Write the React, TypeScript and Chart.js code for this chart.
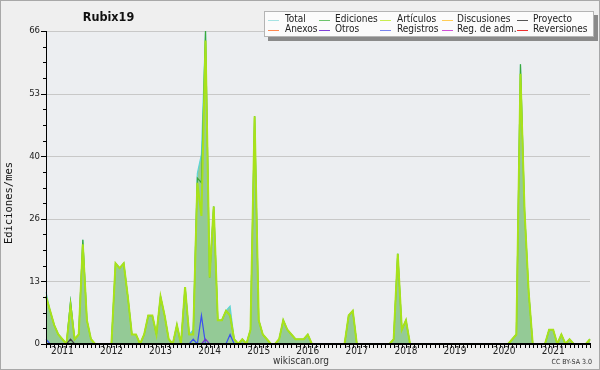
import React, { useEffect, useRef } from 'react';
import { Chart, registerables } from 'chart.js';

Chart.register(...registerables);

const W = 600;
const H = 370;

// Monthly series, first month = September 2010
const START_YEAR = 2010;
const START_MONTH = 9;

const TOTAL = [
  11, 7, 4, 2,
  1, 0, 9, 1, 2, 22, 5, 1, 0, 0, 0, 0,
  0, 17, 16, 17, 10, 2, 2, 0, 2, 6, 6, 2,
  10, 6, 1, 0, 4, 0, 12, 2, 3, 36, 40, 66,
  14, 29, 5, 5, 7, 8, 1, 0, 1, 0, 3, 48,
  5, 2, 1, 0, 0, 1, 5, 3, 2, 1, 1, 1,
  2, 0, 0, 0, 0, 0, 0, 0, 0, 0, 6, 7,
  0, 0, 0, 0, 0, 0, 0, 0, 0, 1, 19, 3,
  5, 0, 0, 0, 0, 0, 0, 0, 0, 0, 0, 0,
  0, 0, 0, 0, 0, 0, 0, 0, 0, 0, 0, 0,
  0, 0, 1, 2, 59, 28, 11, 0, 0, 0, 0, 3,
  3, 0, 2, 0, 1, 0, 0, 0, 0, 1,
];

const EDICIONES = [
  10, 7, 4, 2,
  1, 0, 9, 1, 2, 22, 5, 1, 0, 0, 0, 0,
  0, 17, 16, 17, 10, 2, 2, 0, 2, 6, 6, 2,
  10, 6, 1, 0, 4, 0, 12, 2, 2, 35, 34, 66,
  14, 29, 5, 5, 7, 6, 1, 0, 1, 0, 3, 48,
  5, 2, 1, 0, 0, 1, 5, 3, 2, 1, 1, 1,
  2, 0, 0, 0, 0, 0, 0, 0, 0, 0, 6, 7,
  0, 0, 0, 0, 0, 0, 0, 0, 0, 1, 19, 3,
  5, 0, 0, 0, 0, 0, 0, 0, 0, 0, 0, 0,
  0, 0, 0, 0, 0, 0, 0, 0, 0, 0, 0, 0,
  0, 0, 1, 2, 59, 28, 11, 0, 0, 0, 0, 3,
  3, 0, 2, 0, 1, 0, 0, 0, 0, 1,
];

const ARTICULOS = [
  10, 7, 4, 2,
  1, 0, 8, 1, 2, 21, 5, 1, 0, 0, 0, 0,
  0, 17, 16, 17, 10, 2, 2, 0, 2, 6, 6, 2,
  10, 6, 1, 0, 4, 0, 12, 2, 2, 34, 27, 64,
  14, 29, 5, 5, 7, 6, 1, 0, 1, 0, 3, 48,
  5, 2, 1, 0, 0, 1, 5, 3, 2, 1, 1, 1,
  2, 0, 0, 0, 0, 0, 0, 0, 0, 0, 6, 7,
  0, 0, 0, 0, 0, 0, 0, 0, 0, 1, 19, 3,
  5, 0, 0, 0, 0, 0, 0, 0, 0, 0, 0, 0,
  0, 0, 0, 0, 0, 0, 0, 0, 0, 0, 0, 0,
  0, 0, 1, 2, 57, 28, 11, 0, 0, 0, 0, 3,
  3, 0, 2, 0, 1, 0, 0, 0, 0, 1,
];

const REGISTROS = [
  1, 0, 0, 0,
  0, 0, 0, 0, 0, 0, 0, 0, 0, 0, 0, 0,
  0, 0, 0, 0, 0, 0, 0, 0, 0, 0, 0, 0,
  0, 0, 0, 0, 0, 0, 0, 0, 1, 0, 6, 0,
  0, 0, 0, 0, 0, 2, 0, 0, 0, 0, 0, 0,
  0, 0, 0, 0, 0, 0, 0, 0, 0, 0, 0, 0,
  0, 0, 0, 0, 0, 0, 0, 0, 0, 0, 0, 0,
  0, 0, 0, 0, 0, 0, 0, 0, 0, 0, 0, 0,
  0, 0, 0, 0, 0, 0, 0, 0, 0, 0, 0, 0,
  0, 0, 0, 0, 0, 0, 0, 0, 0, 0, 0, 0,
  0, 0, 0, 0, 0, 0, 0, 0, 0, 0, 0, 0,
  0, 0, 0, 0, 0, 0, 0, 0, 0, 0,
];

const OTROS = [
  0, 0, 0, 0,
  0, 0, 0, 0, 0, 0, 0, 0, 0, 0, 0, 0,
  0, 0, 0, 0, 0, 0, 0, 0, 0, 0, 0, 0,
  0, 0, 0, 0, 0, 0, 0, 0, 0, 0, 0, 1,
  0, 0, 0, 0, 0, 0, 0, 0, 0, 0, 0, 0,
  0, 0, 0, 0, 0, 0, 0, 0, 0, 0, 0, 0,
  0, 0, 0, 0, 0, 0, 0, 0, 0, 0, 0, 0,
  0, 0, 0, 0, 0, 0, 0, 0, 0, 0, 0, 0,
  0, 0, 0, 0, 0, 0, 0, 0, 0, 0, 0, 0,
  0, 0, 0, 0, 0, 0, 0, 0, 0, 0, 0, 0,
  0, 0, 0, 0, 0, 0, 0, 0, 0, 0, 0, 0,
  0, 0, 0, 0, 0, 0, 0, 0, 0, 0,
];

const PROYECTO = [
  0, 0, 0, 0,
  0, 0, 1, 0, 0, 0, 0, 0, 0, 0, 0, 0,
  0, 0, 0, 0, 0, 0, 0, 0, 0, 0, 0, 0,
  0, 0, 0, 0, 0, 0, 0, 0, 0, 0, 0, 0,
  0, 0, 0, 0, 0, 0, 0, 0, 0, 0, 0, 0,
  0, 0, 0, 0, 0, 0, 0, 0, 0, 0, 0, 0,
  0, 0, 0, 0, 0, 0, 0, 0, 0, 0, 0, 0,
  0, 0, 0, 0, 0, 0, 0, 0, 0, 0, 0, 0,
  0, 0, 0, 0, 0, 0, 0, 0, 0, 0, 0, 0,
  0, 0, 0, 0, 0, 0, 0, 0, 0, 0, 0, 0,
  0, 0, 0, 0, 0, 0, 0, 0, 0, 0, 0, 0,
  0, 0, 0, 0, 0, 0, 0, 0, 0, 0,
];

const YEAR_LABELS = ['2011', '2012', '2013', '2014', '2015', '2016', '2017', '2018', '2019', '2020', '2021'];
const Y_TICK_LABELS = ['0', '13', '26', '40', '53', '66'];
const Y_MAX = 66;

const TITLE = 'Rubix19';
const Y_TITLE = 'Ediciones/mes';
const FOOTER = 'wikiscan.org';
const LICENSE = 'CC BY-SA 3.0';

const LEGEND_NAMES = ['Total', 'Ediciones', 'Artículos', 'Discusiones', 'Proyecto', 'Anexos', 'Otros', 'Registros', 'Reg. de adm.', 'Reversiones'];
const LEGEND_COLORS = ['#a6e3e3', '#6cc46c', '#c8ee50', '#ffcc55', '#555555', '#ff8850', '#8040d8', '#7784ee', '#d050d8', '#ee3030'];

const MONTHS = TOTAL.map((_, i) => {
  const m = START_MONTH - 1 + i;
  return `${START_YEAR + Math.floor(m / 12)}-${String((m % 12) + 1).padStart(2, '0')}`;
});

const FONT = "'DejaVu Sans Condensed', 'DejaVu Sans', sans-serif";

const decorPlugin = {
  id: 'decor',
  beforeDraw(chart: any) {
    const { ctx, chartArea: a } = chart;
    const y = chart.scales.y;
    ctx.save();
    ctx.fillStyle = '#efefef';
    ctx.fillRect(0, 0, W, H);
    ctx.fillStyle = '#eceef1';
    ctx.fillRect(a.left, a.top, a.right - a.left, a.bottom - a.top);
    ctx.fillStyle = '#c8c8c8';
    Y_TICK_LABELS.forEach((_, k) => {
      if (k === 0) return;
      const py = Math.round(y.getPixelForValue((Y_MAX * k) / 5));
      ctx.fillRect(a.left, py, a.right - a.left, 1);
    });
    ctx.restore();
  },
  afterDatasetsDraw(chart: any) {
    const { ctx, chartArea: a } = chart;
    const x = chart.scales.x;
    const y = chart.scales.y;
    ctx.save();
    ctx.fillStyle = '#000';
    ctx.fillRect(a.left, a.top, 1, a.bottom - a.top);
    ctx.fillRect(a.left, a.bottom - 1, a.right - a.left + 1, 2);
    for (let j = 0; j <= 20; j++) {
      const py = Math.round(y.getPixelForValue((Y_MAX * j) / 20));
      if (j % 4 === 0) ctx.fillRect(a.left - 5, py, 5, 1);
      else ctx.fillRect(a.left - 3, py, 3, 1);
    }
    for (let i = 0; i < MONTHS.length; i++) {
      const px = Math.round(x.getPixelForValue(i));
      ctx.fillRect(px, a.bottom + 1, 1, 3);
    }
    ctx.fillStyle = '#222';
    ctx.font = `9.5px ${FONT}`;
    ctx.textAlign = 'right';
    ctx.textBaseline = 'middle';
    Y_TICK_LABELS.forEach((t, k) => {
      const py = y.getPixelForValue((Y_MAX * k) / 5);
      ctx.fillText(t, a.left - 6, py);
    });
    ctx.font = `10px ${FONT}`;
    ctx.textAlign = 'center';
    ctx.textBaseline = 'middle';
    YEAR_LABELS.forEach((yr) => {
      const idx = MONTHS.indexOf(`${yr}-01`);
      if (idx < 0) return;
      ctx.fillText(yr, x.getPixelForValue(idx), 351.5);
    });
    ctx.restore();
  },
  afterDraw(chart: any) {
    const { ctx } = chart;
    ctx.save();
    ctx.fillStyle = '#111';
    ctx.font = `bold 12.5px ${FONT}`;
    ctx.textAlign = 'center';
    ctx.textBaseline = 'alphabetic';
    ctx.fillText(TITLE, 108.5, 21);
    ctx.save();
    ctx.translate(9, 203);
    ctx.rotate(-Math.PI / 2);
    ctx.font = "10.5px 'DejaVu Sans Mono', monospace";
    ctx.textAlign = 'center';
    ctx.textBaseline = 'middle';
    ctx.fillStyle = '#111';
    ctx.fillText(Y_TITLE, 0, 0);
    ctx.restore();
    ctx.fillStyle = '#333';
    ctx.font = `10px ${FONT}`;
    ctx.textAlign = 'center';
    ctx.textBaseline = 'middle';
    ctx.fillText(FOOTER, 301, 361);
    ctx.font = `7px ${FONT}`;
    ctx.textAlign = 'right';
    ctx.fillText(LICENSE, 592, 362.5);
    ctx.fillStyle = '#8a8a8a';
    ctx.fillRect(268, 15, 330, 26);
    ctx.fillStyle = '#fbfbfb';
    ctx.fillRect(264, 11, 330, 26);
    ctx.strokeStyle = '#b4b4b4';
    ctx.lineWidth = 1;
    ctx.strokeRect(264.5, 11.5, 329, 25);
    const lineX = [268, 319, 380, 442, 517];
    const textX = [285, 335, 397, 457, 533];
    const rowY = [19.5, 29.5];
    ctx.font = `10px ${FONT}`;
    ctx.textAlign = 'left';
    ctx.textBaseline = 'middle';
    LEGEND_NAMES.forEach((name, k) => {
      const col = k % 5;
      const row = Math.floor(k / 5);
      const yy = rowY[row];
      ctx.fillStyle = LEGEND_COLORS[k];
      ctx.fillRect(lineX[col], Math.round(yy), 11, 1);
      ctx.fillStyle = '#222';
      ctx.fillText(name, textX[col], yy);
    });
    ctx.strokeStyle = '#a8a8a8';
    ctx.strokeRect(0.5, 0.5, W - 1, H - 1);
    ctx.restore();
  },
};

export default function App() {
  const ref = useRef<HTMLCanvasElement>(null);
  useEffect(() => {
    document.body.style.margin = '0';
    const chart = new Chart(ref.current as HTMLCanvasElement, {
      type: 'line',
      data: {
        labels: MONTHS,
        datasets: [
          { label: 'Proyecto', data: PROYECTO, borderColor: '#444444', borderWidth: 1.2, fill: false, order: 0 },
          { label: 'Otros', data: OTROS, borderColor: '#7733cc', borderWidth: 1.2, fill: false, order: 1 },
          { label: 'Registros', data: REGISTROS, borderColor: '#3b4ff0', borderWidth: 1.2, fill: false, order: 2 },
          { label: 'Artículos', data: ARTICULOS, borderColor: '#a8e21a', borderWidth: 2, fill: false, order: 3 },
          { label: 'Ediciones', data: EDICIONES, borderColor: '#3aa83a', borderWidth: 1.2, fill: false, order: 4 },
          { label: 'Total', data: TOTAL, borderColor: '#5cd6d6', borderWidth: 1.2, backgroundColor: '#94ca96', fill: 'origin', order: 5 },
        ],
      },
      options: {
        responsive: false,
        animation: false,
        devicePixelRatio: 1,
        events: [],
        layout: { padding: { left: 46, right: 10, top: 31, bottom: 26 } },
        elements: { point: { radius: 0 }, line: { tension: 0 } },
        plugins: { legend: { display: false }, title: { display: false }, tooltip: { enabled: false } },
        scales: {
          x: { type: 'category', display: false, offset: false },
          y: { type: 'linear', display: false, min: 0, max: Y_MAX },
        },
      },
      plugins: [decorPlugin],
    });
    return () => chart.destroy();
  }, []);
  return <canvas ref={ref} width={W} height={H} style={{ display: 'block', width: W, height: H }} />;
}
